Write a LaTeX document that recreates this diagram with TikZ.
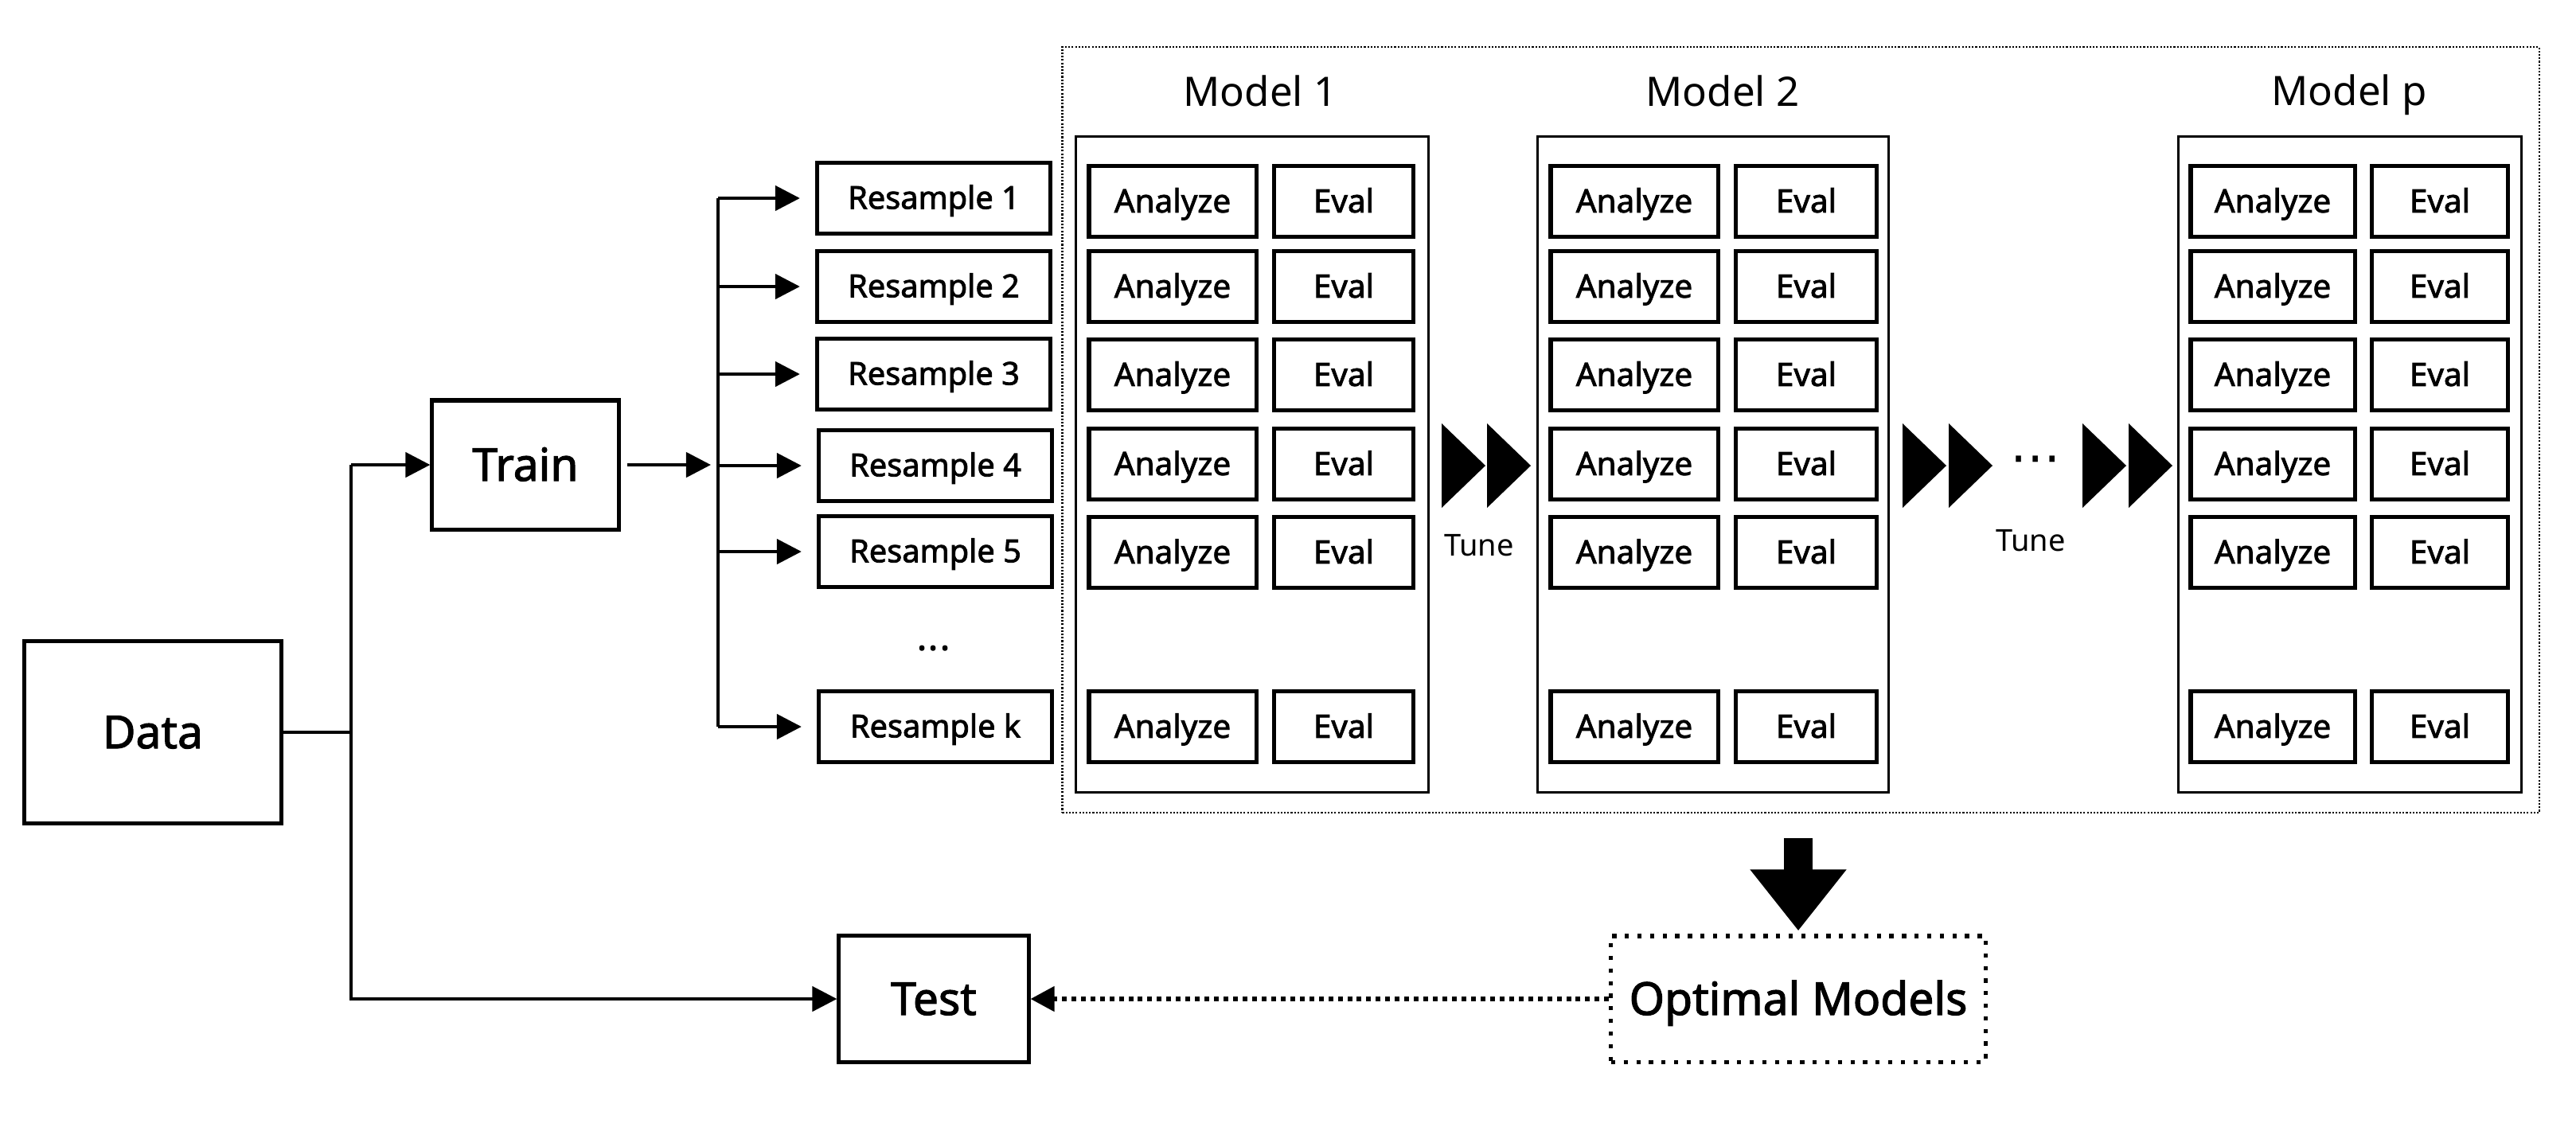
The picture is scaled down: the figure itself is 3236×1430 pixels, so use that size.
\documentclass[tikz,border=0pt]{standalone}
\usepackage{fontspec}
\setmainfont{Noto Sans}
\newfontfamily\med{Noto Sans}[FakeBold=2]
\newfontfamily\djv{DejaVu Sans}
\usetikzlibrary{arrows.meta,calc}
\newcommand\fsz[1]{\fontsize{#1}{#1}\selectfont}
\begin{document}
\begin{tikzpicture}[x=0.01cm,y=-0.01cm,
  bigbox/.style={draw,line width=1.45pt,inner sep=0pt,font=\med\fsz{16.2pt},text height=11.4pt,text depth=0pt},
  smallbox/.style={draw,line width=1.45pt,inner sep=0pt,minimum height=0.89cm},
  rsbox/.style={smallbox,minimum width=2.93cm,font=\med\fsz{11.3pt},text height=7.6pt,text depth=0pt},
  anbox/.style={smallbox,font=\med\fsz{11.5pt},text height=7.9pt,text depth=0pt},
  colbox/.style={draw,line width=0.85pt,inner sep=0pt,minimum height=8.23cm},
  allbox/.style={draw,line width=0.6pt,dash pattern=on 0.6pt off 0.6pt,inner sep=0pt},
  optbox/.style={draw,line width=1.45pt,dash pattern=on 1.5pt off 3pt,inner sep=0pt,font=\med\fsz{16.2pt},text height=11.4pt,text depth=0pt},
  conn/.style={line width=1.3pt},
  arr/.style={conn,-{Triangle[length=0.31cm,width=0.31cm]}},
  dotarr/.style={line width=1.45pt,dash pattern=on 1.7pt off 1.7pt,-{Triangle[length=0.30cm,width=0.31cm]}},
  bigarr/.style={line width=0.36cm,-{Triangle[length=0.77cm,width=1.16cm]}},
  modlabel/.style={anchor=base,inner sep=0pt,font=\fsz{14.5pt}},
  tunelabel/.style={anchor=base,inner sep=0pt,font=\fsz{10.8pt}},
  chev/.style={fill=black}
]
\useasboundingbox (0,0) rectangle (3236,1430);

% left part
\node[bigbox,minimum width=3.22cm,minimum height=2.29cm] (data) at (192,920) {Data};
\node[bigbox,minimum width=2.34cm,minimum height=1.62cm] (train) at (660,584) {Train};
\node[bigbox,minimum width=2.38cm,minimum height=1.59cm] (test) at (1173,1255) {Test};

\node[rsbox] (r1) at (1173,249) {Resample 1};
\node[rsbox] (r2) at (1173,360) {Resample 2};
\node[rsbox] (r3) at (1173,470) {Resample 3};
\node[rsbox] (r4) at (1175,585) {Resample 4};
\node[rsbox] (r5) at (1175,693) {Resample 5};
\node[rsbox] (rk) at (1175,913) {Resample k};
\node[inner sep=0pt,font=\bfseries\fsz{15pt}] (rdots) at (1173,815) {...};

% outer dotted box
\node[allbox,minimum width=18.54cm,minimum height=9.62cm] (all) at (2262,540) {};

% model columns
\node[colbox,minimum width=4.42cm] (m1) at (1573,583.5) {};
\node[colbox,minimum width=4.40cm] (m2) at (2152,583.5) {};
\node[colbox,minimum width=4.30cm] (mp) at (2952,583.5) {};
\node[modlabel] (m1l) at (1583,133) {Model 1};
\node[modlabel] (m2l) at (2164,133) {Model 2};
\node[modlabel] (mpl) at (2951,132) {Model p};

\foreach \r/\y in {1/253,2/360,3/471,4/583,5/694,k/913}{
  \node[anbox,minimum width=2.10cm] (a1\r) at (1473,\y) {Analyze};
  \node[anbox,minimum width=1.75cm] (e1\r) at (1688,\y) {Eval};
  \node[anbox,minimum width=2.10cm] (a2\r) at (2053,\y) {Analyze};
  \node[anbox,minimum width=1.77cm] (e2\r) at (2269,\y) {Eval};
  \node[anbox,minimum width=2.06cm] (ap\r) at (2855,\y) {Analyze};
  \node[anbox,minimum width=1.71cm] (ep\r) at (3065,\y) {Eval};
}

% tune chevrons
\foreach \x in {1811,1868,2390,2448,2616,2674}{
  \fill[chev] (\x,532) -- (\x+55,585) -- (\x,638) -- cycle;
}
\node[tunelabel] (t1) at (1858,698) {Tune};
\node[tunelabel] (t2) at (2551,692) {Tune};
\node[inner sep=0pt,font=\djv\fsz{18pt}] (tdots) at (2557,585) {⋯};

% optimal models
\node[optbox,minimum width=4.70cm,minimum height=1.58cm] (opt) at (2259,1255) {Optimal Models};

% connectors
\coordinate (dv) at (441,920);
\coordinate (dtop) at (dv |- train.west);
\coordinate (dbot) at (dv |- test.west);
\draw[conn] (data.east) -- (dv);
\draw[arr] (dtop) -- (train.west);
\draw[arr] (dtop) -- (dbot) -- (test.west);

\coordinate (bt) at (902,249);
\coordinate (bb) at (902,913);
\coordinate (bm) at (902,584);
\draw[conn] (bt) -- (bb);
\draw[arr,shorten <=0.08cm,shorten >=0.09cm] (train.east) -- (bm);
\foreach \r in {1,2,3,4,5,k}{
  \draw[arr,shorten >=0.19cm] (bt |- r\r.west) -- (r\r.west);
}

\draw[bigarr,shorten <=0.31cm,shorten >=0.04cm] (opt.north |- all.south) -- (opt.north);
\draw[dotarr] (opt.west) -- (test.east);
\end{tikzpicture}
\end{document}
